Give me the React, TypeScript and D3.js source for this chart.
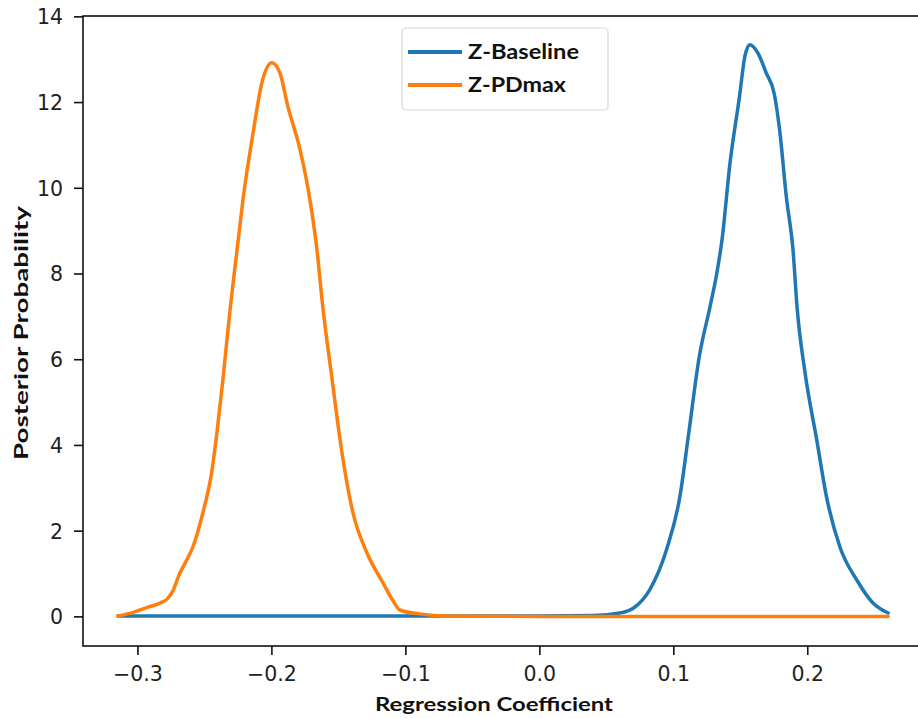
import React from "react";
import * as d3 from "d3";

const baselineX = [-0.315, -0.2, -0.1, 0.0, 0.04, 0.0597, 0.0697, 0.082, 0.0945, 0.1045, 0.111, 0.119, 0.127, 0.132, 0.136, 0.142, 0.149, 0.153, 0.1567, 0.1627, 0.169, 0.175, 0.179, 0.184, 0.189, 0.192, 0.198, 0.2067, 0.214, 0.224, 0.2366, 0.2485, 0.26];
const baselineY = [0.02, 0.02, 0.02, 0.02, 0.03, 0.09, 0.2, 0.63, 1.56, 2.8, 4.25, 6.07, 7.23, 8.0, 8.8, 10.6, 12.13, 13.07, 13.35, 13.16, 12.69, 12.2, 11.36, 9.8, 8.56, 7.23, 5.69, 4.13, 2.8, 1.63, 0.86, 0.33, 0.09];

const pdmaxX = [-0.315, -0.304, -0.293, -0.283, -0.278, -0.274, -0.269, -0.264, -0.259, -0.2515, -0.245, -0.241, -0.2366, -0.231, -0.2255, -0.2216, -0.214, -0.2075, -0.2, -0.194, -0.188, -0.179, -0.1716, -0.1665, -0.162, -0.155, -0.1485, -0.1395, -0.129, -0.117, -0.11, -0.1045, -0.09, -0.07, 0.0, 0.1, 0.26];
const pdmaxY = [0.02, 0.1, 0.22, 0.33, 0.42, 0.6, 1.0, 1.3, 1.63, 2.43, 3.36, 4.3, 5.53, 7.23, 8.7, 9.73, 11.3, 12.46, 12.93, 12.69, 11.9, 10.9, 9.73, 8.6, 7.23, 5.53, 4.0, 2.43, 1.49, 0.79, 0.4, 0.16, 0.07, 0.02, 0.01, 0.01, 0.01];

const xTicks = [-0.3, -0.2, -0.1, 0.0, 0.1, 0.2];
const yTicks = [0, 2, 4, 6, 8, 10, 12, 14];

const seriesNames = ["Z-Baseline", "Z-PDmax"];
const seriesColors = ["#1f77b4", "#ff7f0e"];

const W = 918;
const H = 718;
const L = 83, R = 927, T = 16, B = 646;

export default function App() {
  const x = d3.scaleLinear().domain([-0.341, 0.289]).range([L, R]);
  const y = d3.scaleLinear().domain([-0.68, 14.02]).range([B, T]);
  const line = d3
    .line<[number, number]>()
    .x((d) => x(d[0]))
    .y((d) => y(d[1]))
    .curve(d3.curveMonotoneX);

  const series = [
    baselineX.map((v, i) => [v, baselineY[i]] as [number, number]),
    pdmaxX.map((v, i) => [v, pdmaxY[i]] as [number, number]),
  ];

  const fmtX = (v: number) => {
    const s = v.toFixed(1);
    return v < 0 ? "\u2212" + s.slice(1) : s;
  };

  const tickFont = "DejaVu Sans";
  const labelFont = "Lato, 'Open Sans', sans-serif";

  return (
    <svg
      width={W}
      height={H}
      style={{ position: "absolute", left: 0, top: 0, background: "#fff" }}
    >
      <rect x={0} y={0} width={W} height={H} fill="#fff" />
      {series.map((s, i) => (
        <path
          key={i}
          d={line(s) || ""}
          fill="none"
          stroke={seriesColors[i]}
          strokeWidth={3.5}
          strokeLinejoin="round"
          strokeLinecap="round"
        />
      ))}
      {/* spines */}
      <rect x={L} y={T} width={R - L} height={B - T} fill="none" stroke="#111" strokeWidth={1.6} />
      {/* y ticks */}
      {yTicks.map((t) => (
        <g key={"y" + t}>
          <line x1={L - 9} x2={L} y1={y(t)} y2={y(t)} stroke="#111" strokeWidth={1.6} />
          <text
            x={L - 20}
            y={y(t)}
            dy="0.36em"
            textAnchor="end"
            fontFamily={tickFont}
            fontSize={20.5}
            fill="#222"
          >
            {t}
          </text>
        </g>
      ))}
      {/* x ticks */}
      {xTicks.map((t) => (
        <g key={"x" + t}>
          <line x1={x(t)} x2={x(t)} y1={B} y2={B + 9} stroke="#111" strokeWidth={1.6} />
          <text
            x={x(t)}
            y={681}
            textAnchor="middle"
            fontFamily={tickFont}
            fontSize={20.5}
            fill="#222"
          >
            {fmtX(t)}
          </text>
        </g>
      ))}
      {/* axis labels */}
      <text
        x={494}
        y={711}
        textAnchor="middle"
        fontFamily={labelFont}
        fontWeight="bold"
        fontSize={19.5}
        fill="#111"
        textLength={238}
        lengthAdjust="spacingAndGlyphs"
      >
        Regression Coefficient
      </text>
      <text
        transform="translate(28,333) rotate(-90)"
        textAnchor="middle"
        fontFamily={labelFont}
        fontWeight="bold"
        fontSize={19.5}
        fill="#111"
        textLength={254}
        lengthAdjust="spacingAndGlyphs"
      >
        Posterior Probability
      </text>
      {/* legend */}
      <rect
        x={402}
        y={28}
        width={206}
        height={82}
        rx={4}
        fill="#fff"
        fillOpacity={0.8}
        stroke="#d8d8d8"
        strokeWidth={1.2}
      />
      {seriesNames.map((n, i) => (
        <g key={n}>
          <line
            x1={408}
            x2={462}
            y1={52 + i * 33}
            y2={52 + i * 33}
            stroke={seriesColors[i]}
            strokeWidth={4}
          />
          <text
            x={468}
            y={59 + i * 33}
            fontFamily={labelFont}
            fontWeight="bold"
            fontSize={20.5}
            fill="#111"
            textLength={i === 0 ? 111 : 98}
            lengthAdjust="spacingAndGlyphs"
          >
            {n}
          </text>
        </g>
      ))}
    </svg>
  );
}
